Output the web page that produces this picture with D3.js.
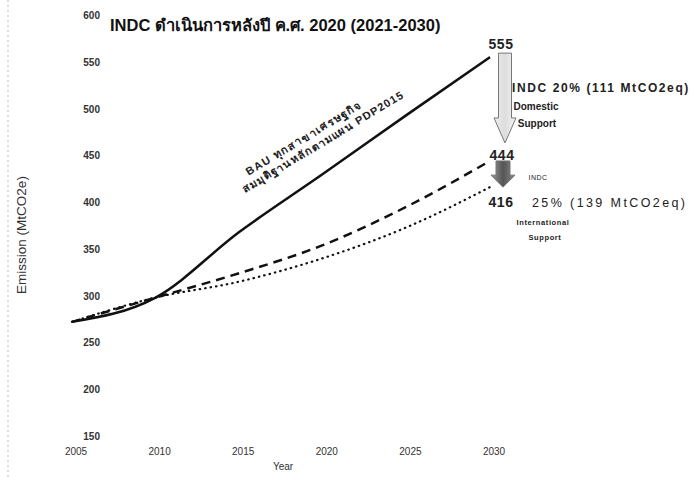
<html>
<head>
<meta charset="utf-8">
<title>INDC</title>
<style>
  body { margin: 0; background: #fff; }
  text { font-family: "Liberation Sans", "DejaVu Sans", "Noto Sans", sans-serif; }
</style>
</head>
<body>
<div id="viz"></div>
<script src="https://d3js.org/d3.v7.min.js"></script>
<script>
var width = 696;
var height = 480;

// data
var years = [2005, 2010, 2015, 2020, 2025, 2030];
var bau = [272, 298, 368, 430, 493, 555];
var domestic = [272, 298, 324, 354, 395, 444];
var international = [272, 298, 315, 340, 373, 416];
var yTicks = [150, 200, 250, 300, 350, 400, 450, 500, 550, 600];

var svg = d3.select("#viz")
    .append("svg")
    .attr("width", width)
    .attr("height", height);

var x = d3.scaleLinear().domain([2005, 2030]).range([72, 490]);
var y = d3.scaleLinear().domain([150, 600]).range([436, 15]);

// faint scan border on the left
svg.append("line")
    .attr("x1", 8).attr("x2", 8).attr("y1", 0).attr("y2", height)
    .attr("stroke", "#bbb").attr("stroke-dasharray", "2,3");

// y tick labels
svg.selectAll(".ylab")
    .data(yTicks)
    .enter()
    .append("text")
    .attr("class", "ylab")
    .attr("x", 100)
    .attr("y", function (d) { return y(d) + 4; })
    .attr("text-anchor", "end")
    .attr("font-size", 10)
    .attr("font-weight", "bold")
    .attr("fill", "#333")
    .text(function (d) { return d; });

// x tick labels
svg.selectAll(".xlab")
    .data(years)
    .enter()
    .append("text")
    .attr("class", "xlab")
    .attr("x", function (d) { return x(d) + 4; })
    .attr("y", 455)
    .attr("text-anchor", "middle")
    .attr("font-size", 10)
    .attr("fill", "#333")
    .text(function (d) { return d; });

svg.append("text")
    .attr("x", 283).attr("y", 470)
    .attr("text-anchor", "middle")
    .attr("font-size", 10)
    .attr("fill", "#333")
    .text("Year");

svg.append("text")
    .attr("transform", "translate(26,235) rotate(-90)")
    .attr("text-anchor", "middle")
    .attr("font-size", 13.5)
    .attr("fill", "#333")
    .text("Emission (MtCO2e)");

// title
svg.append("text")
    .attr("x", 110).attr("y", 31)
    .attr("font-size", 16.5)
    .attr("font-weight", "bold")
    .attr("fill", "#111")
    .text("INDC ดำเนินการหลังปี ค.ศ. 2020 (2021-2030)");

var line = d3.line()
    .x(function (d, i) { return x(years[i]); })
    .y(function (d) { return y(d); })
    .curve(d3.curveMonotoneX);

svg.append("path")
    .attr("d", line(international))
    .attr("fill", "none")
    .attr("stroke", "#111")
    .attr("stroke-width", 2.2)
    .attr("stroke-linecap", "round")
    .attr("stroke-dasharray", "0.5,5");

svg.append("path")
    .attr("d", line(domestic))
    .attr("fill", "none")
    .attr("stroke", "#111")
    .attr("stroke-width", 2.5)
    .attr("stroke-dasharray", "9,6");

svg.append("path")
    .attr("d", line(bau))
    .attr("fill", "none")
    .attr("stroke", "#111")
    .attr("stroke-width", 2.5);

// rotated BAU label
var lab = svg.append("g")
    .attr("transform", "translate(245,193) rotate(-31)");
lab.append("text")
    .attr("x", 12).attr("y", -13)
    .attr("font-size", 11)
    .attr("font-weight", "bold")
    .attr("letter-spacing", 1.3)
    .attr("fill", "#222")
    .text("BAU ทุกสาขาเศรษฐกิจ");
lab.append("text")
    .attr("x", 0).attr("y", 0)
    .attr("font-size", 11)
    .attr("font-weight", "bold")
    .attr("letter-spacing", 1.1)
    .attr("fill", "#222")
    .text("สมมุติฐานหลักตามแผน PDP2015");

// arrows
var defs = svg.append("defs");
var g1 = defs.append("linearGradient").attr("id", "g1");
g1.append("stop").attr("offset", "0%").attr("stop-color", "#eee");
g1.append("stop").attr("offset", "50%").attr("stop-color", "#ddd");
g1.append("stop").attr("offset", "100%").attr("stop-color", "#f4f4f4");
var g2 = defs.append("linearGradient").attr("id", "g2");
g2.append("stop").attr("offset", "0%").attr("stop-color", "#999");
g2.append("stop").attr("offset", "50%").attr("stop-color", "#555");
g2.append("stop").attr("offset", "100%").attr("stop-color", "#888");

function arrow(cx, top, bottom, shaftW, headW, headH, fill) {
    var p = d3.path();
    p.moveTo(cx - shaftW / 2, top);
    p.lineTo(cx + shaftW / 2, top);
    p.lineTo(cx + shaftW / 2, bottom - headH);
    p.lineTo(cx + headW / 2, bottom - headH);
    p.lineTo(cx, bottom);
    p.lineTo(cx - headW / 2, bottom - headH);
    p.lineTo(cx - shaftW / 2, bottom - headH);
    p.closePath();
    svg.append("path")
        .attr("d", p.toString())
        .attr("fill", fill)
        .attr("stroke", "#777")
        .attr("stroke-width", 1);
}
var ax = x(2030) + 15;
arrow(ax, y(555) - 4, y(444) - 18, 13, 22, 25, "url(#g1)");
arrow(ax - 2, y(444), y(416), 14, 24, 12, "url(#g2)");

function label(tx, ty, t, size, weight, anchor, spacing) {
    svg.append("text")
        .attr("x", tx).attr("y", ty)
        .attr("font-size", size)
        .attr("font-weight", weight)
        .attr("text-anchor", anchor || "start")
        .attr("letter-spacing", spacing || 0)
        .attr("fill", "#222")
        .text(t);
}
label(ax - 4, y(555) - 8, bau[5], 14, "bold", "middle", 0.5);
label(ax - 3, y(444) - 1, domestic[5], 14, "bold", "middle", 0.5);
label(ax - 4, y(416) + 20, international[5], 14, "bold", "middle", 0.5);

label(512, 92, "INDC 20% (111 MtCO2eq)", 12, "bold", "start", 1.6);
label(536, 110, "Domestic", 10, "bold", "middle");
label(537, 127, "Support", 10, "bold", "middle");
label(538, 180, "INDC", 7, "normal", "middle", 0.5);
label(532, 207, "25% (139 MtCO2eq)", 12.5, "normal", "start", 2.4);
label(543, 225, "International", 7.5, "bold", "middle", 0.6);
label(545, 240, "Support", 7.5, "bold", "middle", 0.6);
</script>
</body>
</html>
